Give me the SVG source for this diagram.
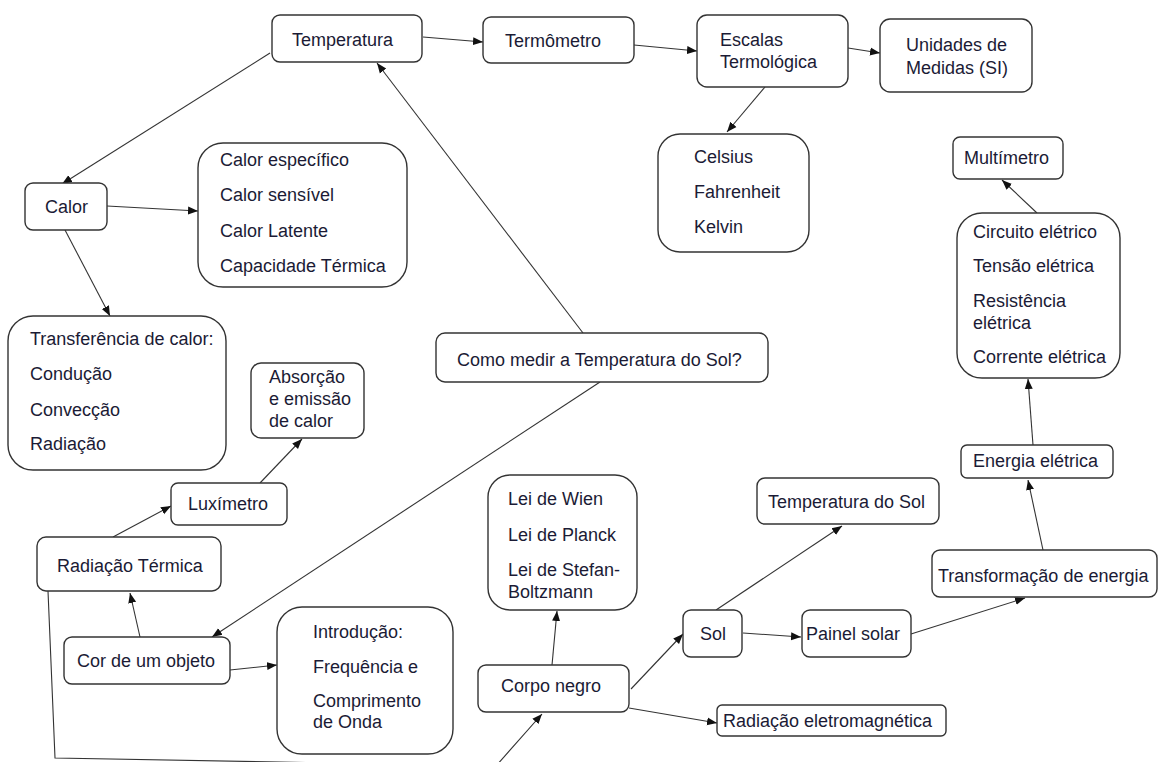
<svg xmlns="http://www.w3.org/2000/svg" width="1158" height="762" viewBox="0 0 1158 762">
  <defs>
    <marker id="arrow" viewBox="0 0 10 10" refX="10" refY="5" markerWidth="10" markerHeight="10" markerUnits="userSpaceOnUse" orient="auto">
      <path d="M0,1 L10,5 L0,9 Z" fill="#111"/>
    </marker>
    <style>
      .box { fill: #fff; stroke: #333; stroke-width: 1.4; }
      .lbl { font-family: "Liberation Sans", Arial, sans-serif; font-size: 18px; fill: #1b1b35; }
      .edge { fill: none; stroke: #333; stroke-width: 1.1; marker-end: url(#arrow); }
      .edge-plain { fill: none; stroke: #333; stroke-width: 1.1; }
    </style>
  </defs>

  <rect width="1158" height="762" fill="#fff"/>

  <!-- connectors -->
  <g id="connectors">
    <line class="edge" x1="270" y1="53" x2="62" y2="184"/>
    <line class="edge" x1="107" y1="206" x2="198" y2="211"/>
    <line class="edge" x1="65" y1="230" x2="110" y2="316"/>
    <line class="edge" x1="423" y1="37" x2="483" y2="42"/>
    <line class="edge" x1="634" y1="45" x2="697" y2="51"/>
    <line class="edge" x1="848" y1="48" x2="880" y2="53"/>
    <line class="edge" x1="765" y1="87" x2="727" y2="132"/>
    <line class="edge" x1="583" y1="333" x2="377" y2="63"/>
    <line class="edge" x1="600" y1="382" x2="212" y2="637"/>
    <line class="edge" x1="140" y1="637" x2="130" y2="593"/>
    <line class="edge" x1="230" y1="670" x2="277" y2="665"/>
    <line class="edge" x1="113" y1="537" x2="171" y2="506"/>
    <line class="edge" x1="260" y1="483" x2="302" y2="439"/>
    <polyline class="edge" points="48,591 55,758 496,766 542,714"/>
    <line class="edge" x1="552" y1="665" x2="557" y2="611"/>
    <line class="edge" x1="631" y1="689" x2="683" y2="634"/>
    <line class="edge" x1="629" y1="708" x2="717" y2="723"/>
    <line class="edge" x1="716" y1="610" x2="842" y2="526"/>
    <line class="edge" x1="743" y1="633" x2="801" y2="637"/>
    <line class="edge" x1="911" y1="634" x2="1025" y2="598"/>
    <line class="edge" x1="1043" y1="550" x2="1028" y2="480"/>
    <line class="edge" x1="1033" y1="445" x2="1028" y2="379"/>
    <line class="edge" x1="1037" y1="213" x2="1002" y2="180"/>
  </g>

  <!-- nodes -->
  <g id="temperatura">
    <rect class="box" x="272" y="15" width="150" height="47" rx="8"/>
    <text class="lbl" x="292" y="46">Temperatura</text>
  </g>
  <g id="termometro">
    <rect class="box" x="483" y="17" width="151" height="46" rx="8"/>
    <text class="lbl" x="505" y="47">Termômetro</text>
  </g>
  <g id="escalas">
    <rect class="box" x="697" y="15" width="151" height="72" rx="10"/>
    <text class="lbl" x="720" y="46">Escalas</text>
    <text class="lbl" x="720" y="68">Termológica</text>
  </g>
  <g id="unidades">
    <rect class="box" x="880" y="19" width="152" height="73" rx="10"/>
    <text class="lbl" x="906" y="51">Unidades de</text>
    <text class="lbl" x="906" y="74">Medidas (SI)</text>
  </g>
  <g id="escalas-tipos">
    <rect class="box" x="658" y="134" width="151" height="118" rx="22"/>
    <text class="lbl" x="694" y="163">Celsius</text>
    <text class="lbl" x="694" y="198">Fahrenheit</text>
    <text class="lbl" x="694" y="233">Kelvin</text>
  </g>
  <g id="multimetro">
    <rect class="box" x="953" y="137" width="110" height="42" rx="7"/>
    <text class="lbl" x="964" y="164">Multímetro</text>
  </g>
  <g id="circuito">
    <rect class="box" x="957" y="213" width="163" height="165" rx="25"/>
    <text class="lbl" x="973" y="238">Circuito elétrico</text>
    <text class="lbl" x="973" y="272">Tensão elétrica</text>
    <text class="lbl" x="973" y="307">Resistência</text>
    <text class="lbl" x="973" y="329">elétrica</text>
    <text class="lbl" x="973" y="363">Corrente elétrica</text>
  </g>
  <g id="energia-eletrica">
    <rect class="box" x="961" y="445" width="152" height="33" rx="6"/>
    <text class="lbl" x="973" y="467">Energia elétrica</text>
  </g>
  <g id="transformacao">
    <rect class="box" x="932" y="550" width="225" height="47" rx="8"/>
    <text class="lbl" x="938" y="582">Transformação de energia</text>
  </g>
  <g id="temperatura-sol">
    <rect class="box" x="757" y="478" width="182" height="46" rx="8"/>
    <text class="lbl" x="768" y="508">Temperatura do Sol</text>
  </g>
  <g id="sol">
    <rect class="box" x="683" y="610" width="59" height="47" rx="8"/>
    <text class="lbl" x="700" y="640">Sol</text>
  </g>
  <g id="painel">
    <rect class="box" x="802" y="610" width="109" height="47" rx="8"/>
    <text class="lbl" x="806" y="640">Painel solar</text>
  </g>
  <g id="radiacao-eletro">
    <rect class="box" x="717" y="705" width="229" height="31" rx="5"/>
    <text class="lbl" x="723" y="727">Radiação eletromagnética</text>
  </g>
  <g id="leis">
    <rect class="box" x="488" y="475" width="149" height="135" rx="22"/>
    <text class="lbl" x="508" y="505">Lei de Wien</text>
    <text class="lbl" x="508" y="541">Lei de Planck</text>
    <text class="lbl" x="508" y="576">Lei de Stefan-</text>
    <text class="lbl" x="508" y="598">Boltzmann</text>
  </g>
  <g id="corpo-negro">
    <rect class="box" x="478" y="665" width="151" height="47" rx="8"/>
    <text class="lbl" x="501" y="692">Corpo negro</text>
  </g>
  <g id="como-medir">
    <rect class="box" x="436" y="333" width="332" height="49" rx="9"/>
    <text class="lbl" x="457" y="366">Como medir a Temperatura do Sol?</text>
  </g>
  <g id="introducao">
    <rect class="box" x="277" y="607" width="176" height="147" rx="25"/>
    <text class="lbl" x="313" y="638">Introdução:</text>
    <text class="lbl" x="313" y="673">Frequência e</text>
    <text class="lbl" x="313" y="707">Comprimento</text>
    <text class="lbl" x="313" y="728">de Onda</text>
  </g>
  <g id="cor-objeto">
    <rect class="box" x="64" y="637" width="166" height="47" rx="8"/>
    <text class="lbl" x="77" y="667">Cor de um objeto</text>
  </g>
  <g id="radiacao-termica">
    <rect class="box" x="37" y="537" width="184" height="54" rx="9"/>
    <text class="lbl" x="57" y="572">Radiação Térmica</text>
  </g>
  <g id="luximetro">
    <rect class="box" x="171" y="483" width="116" height="42" rx="7"/>
    <text class="lbl" x="188" y="510">Luxímetro</text>
  </g>
  <g id="absorcao">
    <rect class="box" x="251" y="363" width="113" height="75" rx="10"/>
    <text class="lbl" x="269" y="383">Absorção</text>
    <text class="lbl" x="269" y="405">e emissão</text>
    <text class="lbl" x="269" y="427">de calor</text>
  </g>
  <g id="transferencia">
    <rect class="box" x="8" y="316" width="218" height="154" rx="25"/>
    <text class="lbl" x="30" y="345">Transferência de calor:</text>
    <text class="lbl" x="30" y="380">Condução</text>
    <text class="lbl" x="30" y="416">Convecção</text>
    <text class="lbl" x="30" y="450">Radiação</text>
  </g>
  <g id="calor">
    <rect class="box" x="25" y="183" width="82" height="47" rx="8"/>
    <text class="lbl" x="45" y="213">Calor</text>
  </g>
  <g id="calor-tipos">
    <rect class="box" x="198" y="143" width="209" height="144" rx="25"/>
    <text class="lbl" x="220" y="166">Calor específico</text>
    <text class="lbl" x="220" y="201">Calor sensível</text>
    <text class="lbl" x="220" y="237">Calor Latente</text>
    <text class="lbl" x="220" y="272">Capacidade Térmica</text>
  </g>
</svg>
